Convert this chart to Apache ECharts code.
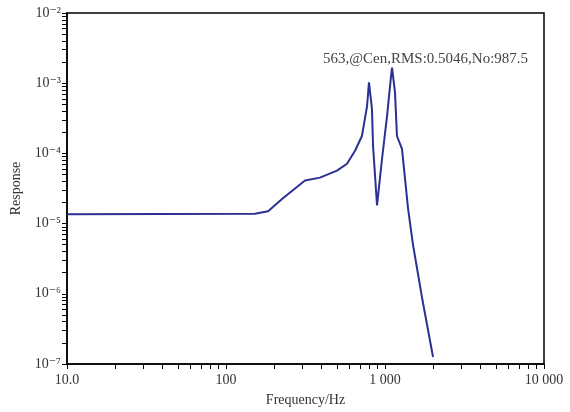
<!DOCTYPE html>
<html>
<head>
<meta charset="utf-8">
<script src="https://cdn.jsdelivr.net/npm/echarts@6/dist/echarts.min.js"></script>
<style>
  html, body { margin: 0; padding: 0; background: #fff; }
  #main { width: 570px; height: 412px; }
</style>
</head>
<body>
<div id="main"></div>
<script>
// frequency (Hz) and response
const freqs = [10, 152, 184, 228, 314, 390, 499, 577, 648, 716, 771, 793, 828, 841, 891, 958, 1030, 1091, 1107, 1156, 1189, 1279, 1396, 1501, 1710, 2005];
const resp  = [1.36e-5, 1.38e-5, 1.50e-5, 2.29e-5, 4.10e-5, 4.52e-5, 5.68e-5, 7.13e-5, 1.09e-4, 1.77e-4, 4.70e-4, 1.03e-3, 4.27e-4, 1.28e-4, 1.82e-5, 8.39e-5, 3.40e-4, 1.25e-3, 1.67e-3, 7.41e-4, 1.77e-4, 1.16e-4, 1.65e-5, 4.95e-6, 8.8e-7, 1.26e-7];

const xMajor = [10, 100, 1000, 10000];
const xLabels = ['10.0', '100', '1 000', '10 000'];
const yMajor = [1e-7, 1e-6, 1e-5, 1e-4, 1e-3, 1e-2];
const yLabels = ['10\u207B\u2077', '10\u207B\u2076', '10\u207B\u2075', '10\u207B\u2074', '10\u207B\u00B3', '10\u207B\u00B2'];
const note = '563,@Cen,RMS:0.5046,No:987.5';

// log spaced minor ticks, 1..9 per decade
function decadeTicks(lo, hi) {
  const out = [];
  for (let e = lo; e < hi; e++) {
    for (let k = 1; k < 10; k++) out.push(k * Math.pow(10, e));
  }
  out.push(Math.pow(10, hi));
  return out;
}

const chart = echarts.init(document.getElementById('main'));
const font = '"Liberation Serif", "DejaVu Serif", serif';

chart.setOption({
  animation: false,
  title: {
    text: note,
    left: 318, top: 47,
    textStyle: { fontFamily: font, fontSize: 15, fontWeight: 'normal', color: '#444' }
  },
  grid: {
    left: 67, right: 26, top: 13, bottom: 45,
    show: true, borderColor: '#000', borderWidth: 1.5
  },
  xAxis: {
    type: 'log', logBase: 10, min: 10, max: 10000,
    name: 'Frequency/Hz', nameLocation: 'middle', nameGap: 29,
    nameTextStyle: { fontFamily: font, fontSize: 14, color: '#333' },
    axisLine: { lineStyle: { color: '#000', width: 1.5 } },
    axisTick: { customValues: decadeTicks(1, 4), length: 5, lineStyle: { color: '#000' } },
    axisLabel: {
      customValues: xMajor, margin: 9,
      fontFamily: font, fontSize: 14, color: '#333',
      formatter: v => xLabels[Math.round(Math.log10(v)) - 1]
    },
    splitLine: { show: false }
  },
  yAxis: {
    type: 'log', logBase: 10, min: 1e-7, max: 1e-2,
    name: 'Response', nameLocation: 'middle', nameGap: 44,
    nameTextStyle: { fontFamily: font, fontSize: 14, color: '#333' },
    axisLine: { lineStyle: { color: '#000', width: 1.5 } },
    axisTick: { customValues: decadeTicks(-7, -2), length: 5, lineStyle: { color: '#000' } },
    axisLabel: {
      customValues: yMajor, margin: 6,
      fontFamily: font, fontSize: 14, color: '#333',
      formatter: v => yLabels[Math.round(Math.log10(v)) + 7]
    },
    splitLine: { show: false }
  },
  series: [{
    type: 'line',
    data: freqs.map((f, i) => [f, resp[i]]),
    showSymbol: false,
    lineStyle: { color: '#2b3190', width: 2 }
  }]
});
</script>
</body>
</html>
